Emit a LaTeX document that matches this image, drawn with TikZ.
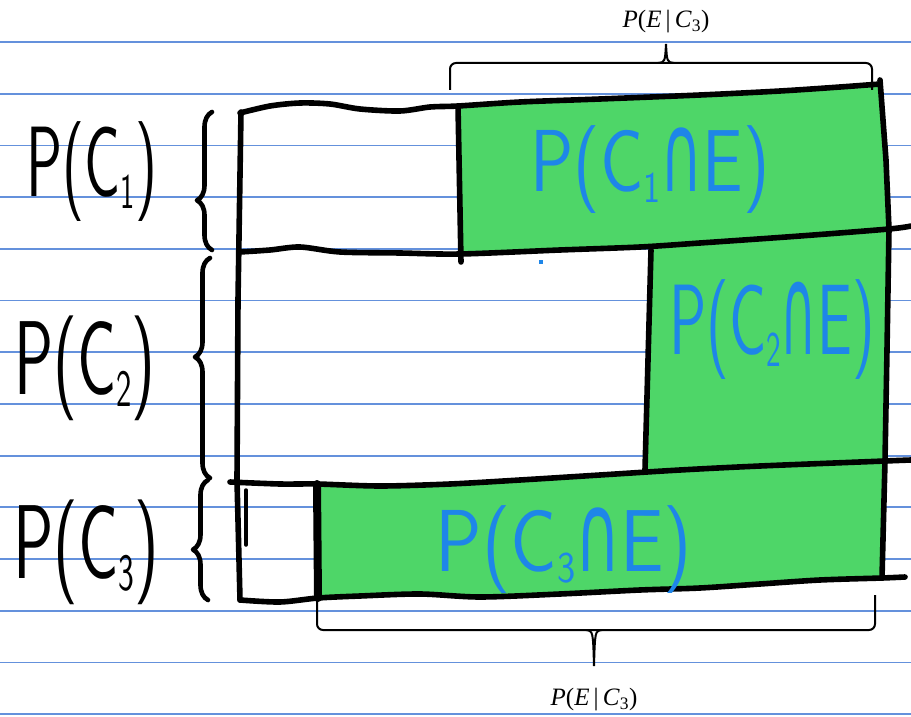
\documentclass[tikz,border=0pt]{standalone}
\usepackage{fontspec}
\setmainfont{Liberation Serif}
\newfontfamily\capfont{DejaVu Sans}
\usetikzlibrary{decorations.pathreplacing}
\definecolor{nbline}{RGB}{100,145,220}
\definecolor{fillg}{RGB}{78,214,104}
\definecolor{inkblue}{RGB}{30,134,232}
\tikzset{
  ink/.style={black, line width=5.6pt, line cap=round, line join=round},
  nb/.style={nbline, line width=1.8pt},
  hand/.style={inner sep=0pt},
  bluelab/.style={hand, text=inkblue},
  bracket/.style={black, line width=2pt, rounded corners=6pt},
  problab/.style={font=\fontsize{25}{25}\selectfont, inner sep=0pt},
  lbrace/.style={ink, line width=4.6pt, decorate},
}
\newcommand{\handtxt}[3]{\scalebox{#2}[1]{\sffamily\fontsize{#1}{#1}\selectfont #3}}
\newcommand{\hsub}[1]{\raisebox{-0.12em}{\scalebox{0.5}{#1}}}
\newcommand{\hcap}{{\capfont\scalebox{0.8}[1.25]{∩}}}
\begin{document}
\begin{tikzpicture}[x=1pt,y=-1pt]
\useasboundingbox (0,0) rectangle (911,717);
\fill[white] (0,0) rectangle (911,717);
% notebook lines
\foreach \k in {0,...,13} \draw[nb] (0,{42+51.7*\k}) -- (911,{42+51.7*\k});

% green regions
\fill[fillg] plot[smooth] coordinates {(458,106) (520,102) (600,99) (700,95) (780,91) (840,87) (878,84)}
  -- (886,160) -- (889,229)
  -- plot[smooth] coordinates {(889,229) (800,236) (700,243) (640,247) (560,250) (500,252) (460,254)} -- cycle;
\fill[fillg] (650,247) -- plot[smooth] coordinates {(650,247) (700,243) (800,236) (889,229)}
  -- (887,350) -- (885,461)
  -- plot[smooth] coordinates {(885,461) (800,463) (720,466) (648,470)} -- cycle;
\fill[fillg] plot[smooth] coordinates {(317,484) (380,486) (450,484) (520,480) (600,475) (680,470) (760,466) (884,462)}
  -- (882,578)
  -- plot[smooth] coordinates {(882,578) (820,580) (760,584) (700,588) (640,590) (560,594) (480,597) (420,594) (360,596) (318,598)} -- cycle;

% outlines
\draw[ink] plot[smooth] coordinates {(240,113) (270,106) (300,103) (330,104) (360,109) (400,111) (430,107) (458,106) (520,102) (600,99) (700,95) (780,91) (840,87) (880,84)};
\draw[ink] (880,80) -- (886,160) -- (889,229) -- (887,350) -- (885,461) -- (882,578);
\draw[ink] plot[smooth] coordinates {(240,252) (270,250) (300,247) (340,252) (400,253) (460,254) (560,250) (640,247) (700,243) (800,236) (889,229) (911,226)};
\draw[ink] (458,106) -- (461,262);
\draw[ink] (651,250) -- (645,470);
\draw[ink] plot[smooth] coordinates {(230,482) (280,484) (317,484) (380,486) (450,484) (520,480) (600,475) (680,470) (760,466) (885,461) (911,460)};
\draw[ink] plot[smooth] coordinates {(240,600) (280,602) (318,598) (360,596) (420,594) (480,597) (560,594) (640,590) (700,588) (760,584) (820,580) (882,578) (905,577)};
\draw[ink] (241,112) -- (238,300) -- (237,480) -- (240,600);
\draw[ink, line width=3.5pt] (246,490) -- (246,545);
\draw[ink, line width=8pt] (317,484) -- (318,598);
\fill[inkblue] (539,260) rectangle (543,264);

% left braces
\draw[lbrace, decoration={brace, amplitude=15pt, aspect=0.36}] (212,250) -- (212,112);
\draw[lbrace, decoration={brace, amplitude=15pt, aspect=0.55}] (210,478) -- (210,258);
\draw[lbrace, decoration={brace, amplitude=15pt, aspect=0.42}] (208,600) -- (208,480);

% brackets
\draw[bracket] (450,90) -- (450,63) -- (872,63) -- (872,90);
\draw[black, line width=2pt] (658,63) .. controls (665,62) .. (666,44) (674,63) .. controls (667,62) .. (666,44);
\draw[bracket] (317,595) -- (317,630) -- (875,630) -- (875,595);
\draw[black, line width=2pt] (586,630) .. controls (593,631) .. (594,666) (602,630) .. controls (595,631) .. (594,666);

% labels
\node[problab] (ptop) at (666,22) {\textit{P}(\textit{E}\,|\,\textit{C}\textsubscript{3})};
\node[problab] (pbot) at (594,700) {\textit{P}(\textit{E}\,|\,\textit{C}\textsubscript{3})};

\node[hand] (pc1) at (92,172) {\handtxt{100}{0.6}{P(C\hsub{1})}};
\node[hand] (pc2) at (85,368) {\handtxt{105}{0.62}{P(C\hsub{2})}};
\node[hand] (pc3) at (86,552) {\handtxt{105}{0.64}{P(C\hsub{3})}};

\node[bluelab] (pe1) at (650,170) {\handtxt{88}{0.82}{P(C\hsub{1}\hcap E)}};
\node[bluelab] (pe2) at (772,330) {\handtxt{100}{0.62}{P(C\hsub{2}\hcap E)}};
\node[bluelab] (pe3) at (564,550) {\handtxt{88}{0.88}{P(C\hsub{3}\hcap E)}};
\end{tikzpicture}
\end{document}
